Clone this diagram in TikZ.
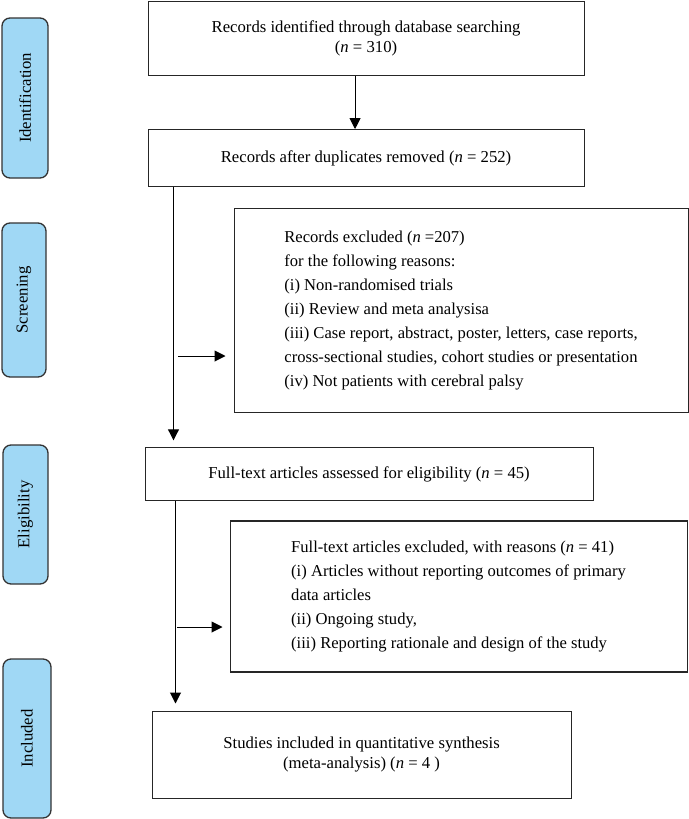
\documentclass[tikz,border=0pt]{standalone}
\usepackage{fontspec}
\setmainfont{Liberation Serif}
\usetikzlibrary{shapes.geometric, arrows.meta, positioning}
\definecolor{stageblue}{RGB}{160,216,245}
\tikzstyle{stylebox} = [rectangle, draw=black!85, line width=1.1pt, inner sep=0pt, align=center, font=\fontsize{16.7}{20}\selectfont]
\tikzstyle{stylelist} = [rectangle, draw=black!85, line width=1.1pt, inner sep=0pt, align=left, font=\fontsize{16.6}{24}\selectfont]
\tikzstyle{stylestage} = [rectangle, rounded corners=8pt, draw=black!80, line width=1.3pt, fill=stageblue, inner sep=0pt, rotate=90, font=\fontsize{16.7}{20}\selectfont]
\tikzstyle{arrow} = [line width=1pt, -{Triangle[length=11pt, width=11pt]}]

\begin{document}
\begin{tikzpicture}[x=1pt, y=1pt]
\useasboundingbox (0,0) rectangle (688,-819);

\node (p1) [stylestage, minimum width=160pt, minimum height=46pt] at (25,-98) {Identification};
\node (p2) [stylestage, minimum width=154pt, minimum height=44pt] at (24,-300) {Screening};
\node (p3) [stylestage, minimum width=139pt, minimum height=45pt] at (25.5,-514.5) {Eligibility};
\node (p4) [stylestage, minimum width=159pt, minimum height=48pt] at (27,-738.5) {Included};

\node (b1) [stylebox, minimum width=436pt, minimum height=74pt, anchor=north west] at (147.5,-1) {Records identified through database searching\\(\textit{n} = 310)};
\node (b2) [stylebox, minimum width=436pt, minimum height=57pt, below=53pt of b1.south west, anchor=north west] {Records after duplicates removed (\textit{n} = 252)};
\node (e1) [stylelist, minimum width=454pt, minimum height=204pt, below right=21pt and 86pt of b2.south west, anchor=north west] {Records excluded (\textit{n} =207)\\for the following reasons:\\(i) Non-randomised trials\\(ii) Review and meta analysisa\\(iii) Case report, abstract, poster, letters, case reports,\\cross-sectional studies, cohort studies or presentation\\(iv) Not patients with cerebral palsy};
\node (b3) [stylebox, minimum width=448pt, minimum height=53pt, below left=34pt and 89pt of e1.south west, anchor=north west] {Full-text articles assessed for eligibility (\textit{n} = 45)};
\node (e2) [stylelist, minimum width=457pt, minimum height=151pt, below right=19pt and 85pt of b3.south west, anchor=north west] {Full-text articles excluded, with reasons (\textit{n} = 41)\\(i) Articles without reporting outcomes of primary\\data articles\\(ii) Ongoing study,\\(iii) Reporting rationale and design of the study};
\node (b4) [stylebox, minimum width=419pt, minimum height=87pt, below left=38pt and 78pt of e2.south west, anchor=north west] {Studies included in quantitative synthesis\\(meta-analysis) (\textit{n} = 4 )};

\coordinate (c1) at (178,-356);
\coordinate (c2) at (177,-627);

\draw[arrow] ([xshift=-11pt]b1.south) -- ([xshift=-11pt]b2.north);
\draw[arrow, shorten >=7pt] ([xshift=26pt]b2.south west) -- ([xshift=26pt]b2.south west |- b3.north);
\draw[arrow, shorten >=8pt] (c1) -- (c1 -| e1.west);
\draw[arrow, shorten >=7pt] ([xshift=31pt]b3.south west) -- ([xshift=31pt]b3.south west |- b4.north);
\draw[arrow, shorten >=7pt] (c2) -- (c2 -| e2.west);

\end{tikzpicture}
\end{document}
